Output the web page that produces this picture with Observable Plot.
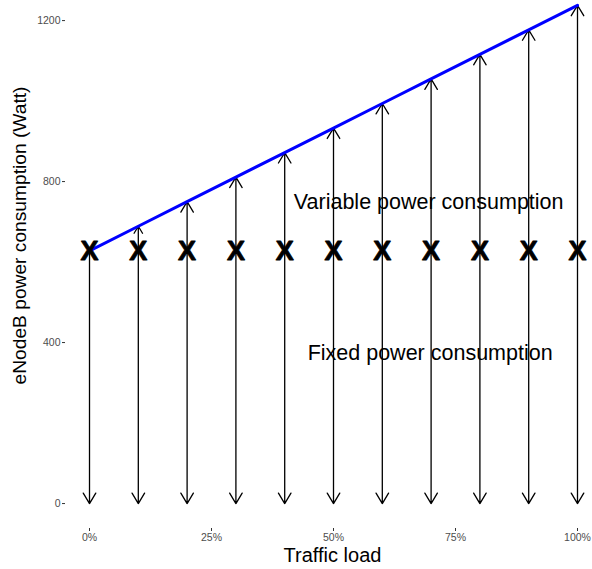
<!DOCTYPE html>
<html>
<head>
<meta charset="utf-8">
<script src="https://cdn.jsdelivr.net/npm/d3@7"></script>
<script src="https://cdn.jsdelivr.net/npm/@observablehq/plot@0.6"></script>
<style>
  html, body { margin: 0; padding: 0; background: #fff; }
  svg { display: block; font-family: "Liberation Sans", Arial, sans-serif; }
</style>
</head>
<body>
<div id="chart"></div>
<script>
// Data
const trafficLoad = [0, 0.1, 0.2, 0.3, 0.4, 0.5, 0.6, 0.7, 0.8, 0.9, 1.0];
const fixedPower = 628;      // Watt, fixed power consumption
const totalPower = [628, 689, 750, 811, 872, 933, 994, 1055, 1116, 1177, 1238];
const yTicks = [0, 400, 800, 1200];
const xTicks = [0, 0.25, 0.5, 0.75, 1];
const annotations = [
  {x: 0.695, y: 748, label: "Variable power consumption"},
  {x: 0.698, y: 373, label: "Fixed power consumption"}
];

const rows = trafficLoad.map((t, i) => ({t, fixed: fixedPower, total: totalPower[i]}));
const upRows = rows.filter(d => d.total > d.fixed);

const chart = Plot.plot({
  width: 592,
  height: 569,
  marginLeft: 65,
  marginRight: 15,
  marginTop: 6,
  marginBottom: 41,
  style: {fontFamily: "'Liberation Sans', Arial, sans-serif", background: "#fff"},
  x: {domain: [-0.0492, 1], label: null},
  y: {domain: [-62, 1235], label: null},
  marks: [
    Plot.axisY(yTicks, {tickSize: 3, tickPadding: 2, fontSize: 10.5, fill: "#4d4d4d", stroke: "#333", tickFormat: d3.format("d"), label: null}),
    Plot.axisX(xTicks, {tickSize: 3, tickPadding: 2, fontSize: 10.5, fill: "#4d4d4d", stroke: "#333", tickFormat: d3.format(".0%"), label: null}),
    // fixed power: arrows down to zero
    Plot.arrow(rows, {x1: "t", y1: "fixed", x2: "t", y2: 0, stroke: "black", strokeWidth: 1.3, headLength: 14, headAngle: 62}),
    // variable power: arrows up to total
    Plot.arrow(upRows, {x1: "t", y1: "fixed", x2: "t", y2: "total", stroke: "black", strokeWidth: 1.3, headLength: 14, headAngle: 62}),
    Plot.line(rows, {x: "t", y: "total", stroke: "#0000ff", strokeWidth: 3}),
    Plot.text(rows, {x: "t", y: "fixed", text: () => "X", fontSize: 27, fontWeight: "bold", fill: "black", stroke: "black", strokeWidth: 0.8, lineAnchor: "middle", dy: 1}),
    Plot.text(annotations, {x: "x", y: "y", text: "label", fontSize: 21.5, fill: "black"}),
    Plot.text(["Traffic load"], {frameAnchor: "bottom", dy: 27, dx: 11, fontSize: 20, fill: "black", lineAnchor: "middle", textAnchor: "middle"}),
    Plot.text(["eNodeB power consumption (Watt)"], {frameAnchor: "left", dx: -46, dy: -32, rotate: -90, fontSize: 19.2, fill: "black", lineAnchor: "middle", textAnchor: "middle"})
  ]
});
document.getElementById("chart").appendChild(chart);
</script>
</body>
</html>
